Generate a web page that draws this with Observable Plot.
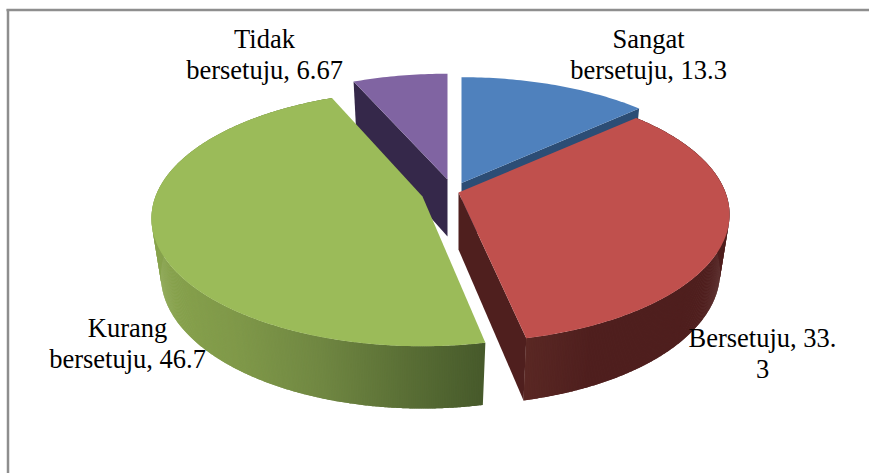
<!DOCTYPE html>
<html>
<head>
<meta charset="utf-8">
<script src="https://cdn.jsdelivr.net/npm/d3@7"></script>
<script src="https://cdn.jsdelivr.net/npm/@observablehq/plot@0.6"></script>
<style>html,body{margin:0;padding:0;background:#fff}svg{display:block}</style>
</head>
<body>
<div id="chart"></div>
<script>
// Data
const categories = ["Sangat bersetuju", "Bersetuju", "Kurang bersetuju", "Tidak bersetuju"];
const values = [13.3, 33.3, 46.7, 6.67];
const labels = ["Sangat\nbersetuju, 13.3", "Bersetuju, 33.\n3", "Kurang\nbersetuju, 46.7", "Tidak\nbersetuju, 6.67"];

// Styles and layout
const topColors = ["#4f81bd", "#c0504d", "#9bbb59", "#8064a2"];
const wallColors = ["#2c4d75", "#4f1f1e", "#4a5e2b", "#35284a"];
const rimRamps = [
  ["#2c4d75", "#2c4d75"],
  ["#4f1f1e", "#4f1f1e", "#4f1f1e", "#5a2824"],
  ["#88a34d", "#7f9849", "#708742", "#5b7036", "#475a2b"],
  ["#35284a", "#35284a"]
];
const explodeCentres = [[461, 182.5], [458, 192], [422, 196], [447, 179]];
const sliceTurn = [0, 0, 0.9, 0];
const labelAt = [[648, 78], [762, 377], [127, 367], [264, 78]];
const W = 869, H = 473;
const A = 267, B = 124, KV = 0.172, KZ = 0.035, D = 59;

const total = d3.sum(values);
function project(c, deg, r, z) {
  const t = deg * Math.PI / 180;
  const u = r * Math.sin(t), v = r * Math.cos(t);
  const s = 1 / (1 + KV * v + KZ * z);
  return [c[0] + A * u * s, c[1] - B * v * s + D * z * s];
}

// Build pieces back to front
const pieces = [];
let pid = 0;
function addPoly(points, fill) {
  const id = pid++;
  for (const p of points) pieces.push({x: p[0], y: p[1], id, fill});
}
let acc = 0;
const spans = values.map((v, i) => { const a0 = acc; acc += v / total * 360; return [a0 + sliceTurn[i], acc + sliceTurn[i]]; });
function arc(c, a0, a1, z) {
  const n = Math.max(2, Math.ceil(a1 - a0));
  return d3.range(n + 1).map(i => project(c, a0 + (a1 - a0) * i / n, 1, z));
}
[0, 3, 1, 2].forEach(i => {
  const c = explodeCentres[i], [a0, a1] = spans[i];
  const centreTop = project(c, 0, 0, 0), centreBot = project(c, 0, 0, 1);
  // cut faces
  if (i === 0 || i === 1) addPoly([centreTop, project(c, a1, 1, 0), project(c, a1, 1, 1), centreBot], wallColors[i]);
  if (i === 3) addPoly([centreTop, project(c, a0, 1, 0), project(c, a0, 1, 1), centreBot], wallColors[i]);
  // rim strips, each running on under the next one so no seams show
  if (i === 1 || i === 2) {
    const ramp = d3.piecewise(d3.interpolateRgb, rimRamps[i]);
    const edge = arc(c, a0, a1, 0);
    const xs = d3.extent(edge, d => d[0]);
    const n = Math.ceil(a1 - a0) * 3;
    for (let k = n - 1; k >= 0; k--) {
      const b0 = a0 + (a1 - a0) * k / n, b1 = Math.min(a1, a0 + (a1 - a0) * (k + 2) / n);
      const p = project(c, b0 + (a1 - a0) / n / 2, 1, 0);
      const tt = i === 2 ? (p[0] - 155) / (xs[1] - 155)
                         : 1 - (p[0] - (xs[0])) / (xs[1] - xs[0]);
      const band = [];
      d3.range(3).forEach(j => band.push(project(c, b0 + (b1 - b0) * j / 2, 1, 0)));
      d3.range(3).forEach(j => band.push(project(c, b1 - (b1 - b0) * j / 2, 1, 1)));
      addPoly(band, ramp(Math.max(0, Math.min(1, tt))));
    }
  }
  // top face
  addPoly([centreTop, ...arc(c, a0, a1, 0)], topColors[i]);
});

const labelRows = labels.map((text, i) => ({text, x: labelAt[i][0], y: labelAt[i][1], name: categories[i]}));

const plot = Plot.plot({
  width: W, height: H, margin: 0,
  style: {background: "#fff"},
  x: {domain: [0, W], range: [0, W], axis: null},
  y: {domain: [0, H], range: [0, H], axis: null},
  color: {type: "identity"},
  marks: [
    Plot.ruleY([9.5], {x1: 6.5, x2: W, stroke: "#8e8e8e", strokeWidth: 2.5}),
    Plot.ruleX([7.5], {y1: 9, y2: H, stroke: "#8e8e8e", strokeWidth: 2.5}),
    Plot.line(pieces, {x: "x", y: "y", z: "id", fill: "fill", stroke: null}),
    Plot.text(labelRows, {
      x: "x", y: "y", text: "text", textAnchor: "middle", lineAnchor: "bottom",
      lineHeight: 31 / 26.5, fontSize: 26.5, fontFamily: "Liberation Serif", fill: "#000"
    })
  ]
});
document.getElementById("chart").appendChild(plot);
</script>
</body>
</html>
